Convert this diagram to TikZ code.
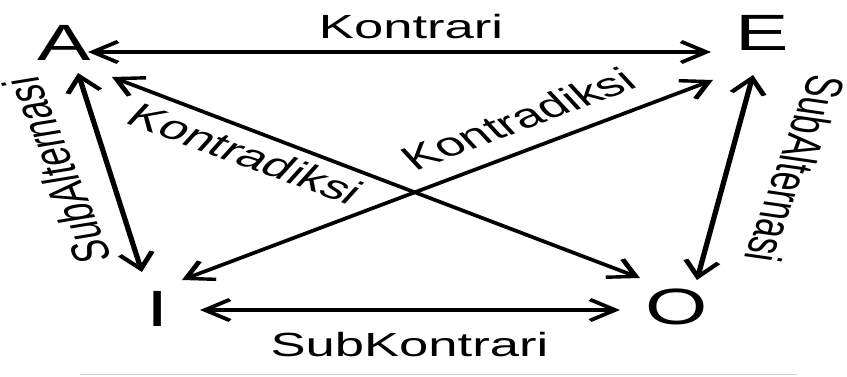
\documentclass[tikz,border=0pt]{standalone}
\usepackage{fontspec}
\setmainfont{Liberation Sans}
\usetikzlibrary{arrows.meta}
\begin{document}
\begin{tikzpicture}[x=1pt,y=1pt,
  letter/.style={font=\fontsize{51}{60}\selectfont, inner sep=0pt, anchor=base},
  rel/.style={font=\fontsize{33.5}{40}\selectfont, inner sep=0pt, anchor=base},
  link/.style={line width=3.4pt, {Straight Barb[length=16pt,width=21pt]}-{Straight Barb[length=16pt,width=21pt]}},
]
\path[use as bounding box, fill=white] (0,0) rectangle (847,-376);

% thin rule under the square
\draw[line width=1.5pt, black!18] (80,-374.5) -- (797,-374.5);

% the whole square of opposition is set wide
\begin{scope}[transform canvas={xscale=1.57}]
  % corners
  \node[letter] (A) at (40.8,-60)    {A};
  \node[letter] (E) at (485.4,-50)   {E};
  \node[letter] (I) at (100.3,-326.7) {I};
  \node[letter] (O) at (430.9,-324.5) {O};

  % relations
  \draw[link] ([shift={(15.25,8)}]A.base)  -- ([shift={(-32.5,-2)}]E.base);
  \draw[link] ([shift={(8.9,-13)}]A.base)  -- ([shift={(-9.9,54.7)}]I.base);
  \draw[link] ([shift={(30.5,-17)}]A.base) -- ([shift={(-23.3,46.5)}]O.base);
  \draw[link] ([shift={(15.6,46.7)}]I.base) -- ([shift={(-31.3,-30)}]E.base);
  \draw[link] ([shift={(-5.8,-25)}]E.base) -- ([shift={(13,44.5)}]O.base);
  \draw[link] ([shift={(27.1,16.7)}]I.base) -- ([shift={(-36,14.5)}]O.base);

  % labels
  \node[rel] (kontrari) at (261.8,-38.3) {Kontrari};
  \node[rel] (subkontrari) at (260.8,-356) {SubKontrari};
  \node[rel, rotate=104.5] (subalt-left) at (48,-167.5) {SubAlternasi};
  \node[rel, rotate=-102.75] (subalt-right) at (495,-166.5) {SubAlternasi};
  \node[rel, rotate=-30] (kontradiksi-ao) at (150.6,-164) {Kontradiksi};
  \node[rel, rotate=30.5] (kontradiksi-ie) at (336,-129) {Kontradiksi};
\end{scope}
\end{tikzpicture}
\end{document}
